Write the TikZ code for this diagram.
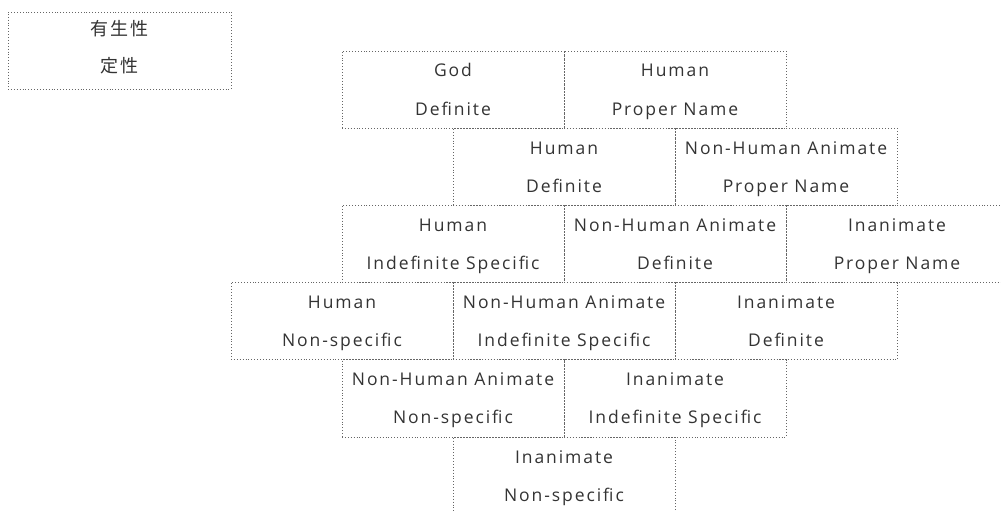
\documentclass[tikz,border=0pt]{standalone}
\usepackage{fontspec}
\setmainfont{Open Sans}[LetterSpace=11]
\newfontfamily\jpfont{Noto Sans CJK JP}[LetterSpace=12]
\definecolor{ink}{HTML}{333333}
\definecolor{rule}{HTML}{666666}
\tikzset{
  cellbox/.style={draw=rule, dotted, line width=0.9pt, minimum width=222pt, minimum height=77.2pt, inner sep=0pt},
  celltext/.style={text=ink, font=\fontsize{17.5}{17.5}\selectfont, inner sep=0pt, anchor=base},
  legendtext/.style={celltext, font=\jpfont\fontsize{18}{18}\selectfont},
}
% #1 name, #2 left x, #3 top y, #4 first line, #5 second line
\newcommand\gridcell[5]{%
  \node[cellbox] (#1) at (#2+111,#3+38.6) {};
  \node[celltext] (#1-a) at (#2+111,#3+26) {#4};
  \node[celltext] (#1-b) at (#2+111,#3+64) {#5};
}
\begin{document}
\begin{tikzpicture}[x=1pt,y=-1pt]
\useasboundingbox (0,0) rectangle (1001,511);

% legend
\node[cellbox, minimum width=223pt, minimum height=77pt] (legend) at (119.5,50.5) {};
\node[legendtext] (legend-a) at (119.5,36) {有生性};
\node[legendtext] (legend-b) at (119.5,73) {定性};

% row 1
\gridcell{godDef}{342}{51}{God}{Definite}
\gridcell{humProp}{564}{51}{Human}{Proper Name}
% row 2
\gridcell{humDef}{453}{128.2}{Human}{Definite}
\gridcell{nhaProp}{675}{128.2}{Non-Human Animate}{Proper Name}
% row 3
\gridcell{humIndef}{342}{205.4}{Human}{Indefinite Specific}
\gridcell{nhaDef}{564}{205.4}{Non-Human Animate}{Definite}
\gridcell{inaProp}{786}{205.4}{Inanimate}{Proper Name}
% row 4
\gridcell{humNon}{231}{282.6}{Human}{Non-specific}
\gridcell{nhaIndef}{453}{282.6}{Non-Human Animate}{Indefinite Specific}
\gridcell{inaDef}{675}{282.6}{Inanimate}{Definite}
% row 5
\gridcell{nhaNon}{342}{359.8}{Non-Human Animate}{Non-specific}
\gridcell{inaIndef}{564}{359.8}{Inanimate}{Indefinite Specific}
% row 6
\gridcell{inaNon}{453}{437}{Inanimate}{Non-specific}
\end{tikzpicture}
\end{document}
